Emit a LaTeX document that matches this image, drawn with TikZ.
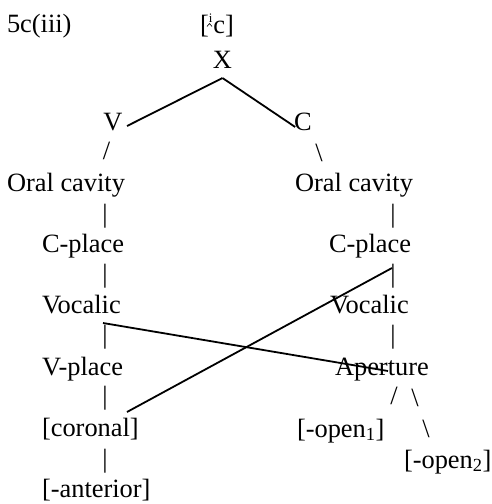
\documentclass[tikz,border=0pt]{standalone}
\usepackage{fontspec}
\setmainfont{Liberation Serif}
\begin{document}
\begin{tikzpicture}[x=1pt,y=-1pt,
  lab/.style={inner sep=0pt,outer sep=0pt,font=\fontsize{26.4}{30}\selectfont},
  conn/.style={line width=1.8pt}]
\useasboundingbox (0,0) rectangle (492,504);
% title and transcription
\node[lab,anchor=base west] (title) at (7,32) {5c(iii)};
\node[lab,anchor=base west] (ic) at (200,33) {[\raisebox{11pt}{\fontsize{13}{13}\selectfont i}\kern1pt c]};
\draw[line width=0.6pt] ([xshift=7pt,yshift=6.5pt]ic.base west) -- ++(2.5,-3) -- ++(2.5,3);
% tree
\node[lab,anchor=base] (X) at (222.5,68) {X};
\node[lab,anchor=base] (V) at (113,130) {V};
\node[lab,anchor=base] (C) at (303,130) {C};
\node[lab] (s1) at (106.5,151) {/};
\node[lab] (s2) at (319,152.5) {\textbackslash};
\node[lab,anchor=base west] (oc1) at (7,191) {Oral cavity};
\node[lab,anchor=base west] (oc2) at (295,191) {Oral cavity};
\node[lab] (b1) at (105,216) {|};
\node[lab] (b2) at (393,216) {|};
\node[lab,anchor=base west] (cp1) at (42,252) {C-place};
\node[lab,anchor=base west] (cp2) at (329,252) {C-place};
\node[lab] (b3) at (105,276) {|};
\node[lab] (b4) at (393,276) {|};
\node[lab,anchor=base west] (voc1) at (42,313) {Vocalic};
\node[lab,anchor=base west] (voc2) at (330,313) {Vocalic};
\node[lab] (b5) at (105,337.5) {|};
\node[lab] (b6) at (393,337.5) {|};
\node[lab,anchor=base west] (vp) at (42,375) {V-place};
\node[lab,anchor=base west] (ap) at (335,375) {Aperture};
\node[lab] (b7) at (105,398) {|};
\node[lab] (s3) at (394,396) {/};
\node[lab] (s4) at (415,397.5) {\textbackslash};
\node[lab,anchor=base west] (cor) at (42,436) {[coronal]};
\node[lab,anchor=base west] (op1) at (297,437) {[-open\textsubscript{1}]};
\node[lab] (s5) at (426,429) {\textbackslash};
\node[lab] (b8) at (105,461) {|};
\node[lab,anchor=base west] (op2) at (404,468) {[-open\textsubscript{2}]};
\node[lab,anchor=base west] (ant) at (42,497) {[-anterior]};
% association lines
\draw[conn] ([yshift=-10pt]X.south) -- ([xshift=4.5pt,yshift=4pt]V.base east);
\draw[conn] ([yshift=-10pt]X.south) -- ([xshift=1pt,yshift=3pt]C.base west);
\draw[conn] ([xshift=61pt,yshift=-10pt]voc1.base west) -- ([xshift=53pt,yshift=4pt]ap.base west);
\draw[conn] ([xshift=85pt,yshift=24pt]cor.base west) -- ([xshift=63pt,yshift=-16pt]cp2.base west);
\end{tikzpicture}
\end{document}
